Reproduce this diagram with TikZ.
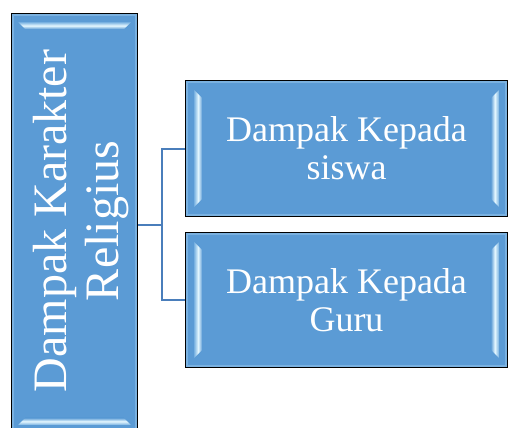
\documentclass[tikz,border=0pt]{standalone}
\usepackage{fontspec}
\setmainfont{Liberation Serif}
\usetikzlibrary{calc}
\definecolor{boxblue}{HTML}{5B9BD5}
\definecolor{bevel}{HTML}{E6F8FF}
\definecolor{beveledge}{HTML}{7DB4E2}
\definecolor{rim}{HTML}{7AB1E0}
\definecolor{linkblue}{HTML}{4A7EBB}
\begin{document}
\begin{tikzpicture}[x=1pt,y=-1pt,
  box/.style={draw=black, line width=1.6pt, fill=boxblue, inner sep=0pt,
    text=white, align=center, font=\fontsize{36}{38}\selectfont},
  sidetext/.style={text=white, align=center, inner sep=0pt,
    font=\fontsize{48}{52}\selectfont},
  rimline/.style={draw=rim, line width=1.2pt},
  link/.style={draw=linkblue, line width=2pt}]
\useasboundingbox (0,0) rectangle (509,428);

% main boxes
\node[box, minimum width=125pt, minimum height=419pt] (L) at (74.5,223.5) {};
\node[box, minimum width=321pt, minimum height=135pt] (A) at (346.5,148.5) {};
\node[box, minimum width=321pt, minimum height=134pt] (B) at (346.5,300) {};

% light rim just inside each border
\foreach \n in {L,A,B}
  \draw[rimline] ($(\n.north west)+(1.8pt,-1.8pt)$) rectangle ($(\n.south east)+(-1.8pt,1.8pt)$);

% bevel highlights on the short sides of the wide boxes
\foreach \n in {A,B}{
  \path[left color=beveledge, right color=boxblue, middle color=bevel]
    ($(\n.north west)+(9pt,-10pt)$) -- ($(\n.north west)+(17pt,-18pt)$) --
    ($(\n.south west)+(17pt,18pt)$) -- ($(\n.south west)+(9pt,10pt)$) -- cycle;
  \path[right color=beveledge, left color=boxblue, middle color=bevel]
    ($(\n.north east)+(-9pt,-10pt)$) -- ($(\n.north east)+(-17pt,-18pt)$) --
    ($(\n.south east)+(-17pt,18pt)$) -- ($(\n.south east)+(-9pt,10pt)$) -- cycle;
}
% bevel highlights on the short sides of the tall box
\path[top color=beveledge, bottom color=boxblue, middle color=bevel]
  ($(L.north west)+(7pt,-9pt)$) -- ($(L.north east)+(-7pt,-9pt)$) --
  ($(L.north east)+(-14pt,-16pt)$) -- ($(L.north west)+(14pt,-16pt)$) -- cycle;
\path[bottom color=beveledge, top color=boxblue, middle color=bevel]
  ($(L.south west)+(7pt,9pt)$) -- ($(L.south east)+(-7pt,9pt)$) --
  ($(L.south east)+(-14pt,16pt)$) -- ($(L.south west)+(14pt,16pt)$) -- cycle;

% box texts
\node[sidetext, rotate=90] (Lt) at (81,221) {Dampak Karakter\\Religius};
\node[box, draw=none, fill=none] (At) at (A.center) {Dampak Kepada\\siswa};
\node[box, draw=none, fill=none] (Bt) at (B.center) {Dampak Kepada\\Guru};

% connectors
\coordinate (j) at (162,225);
\draw[link] (j -| L.east) -- (j);
\draw[link] (A.west) -| (j) |- (B.west);
\end{tikzpicture}
\end{document}
